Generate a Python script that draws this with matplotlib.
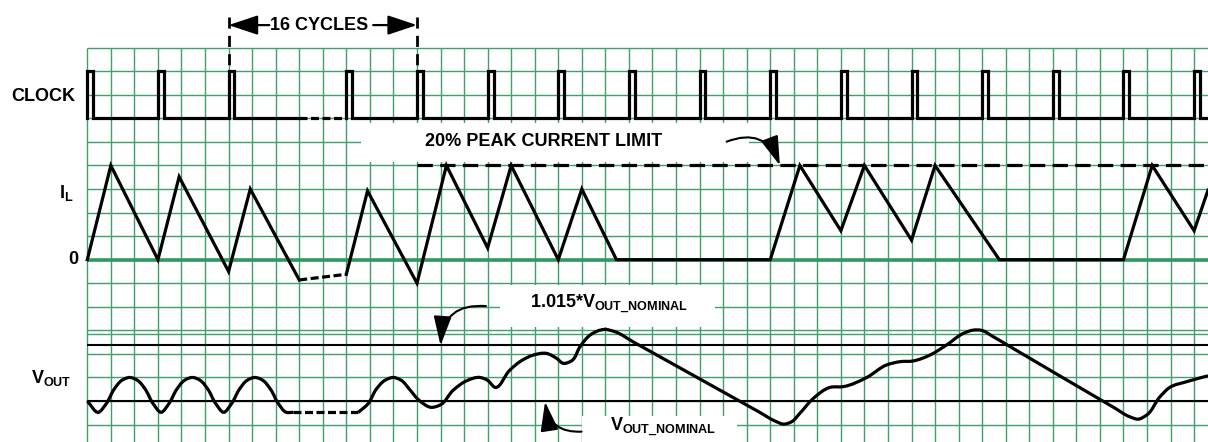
import numpy as np
import matplotlib.pyplot as plt
from matplotlib.path import Path
from matplotlib.patches import PathPatch, Rectangle

plt.rcParams['font.family'] = ['Liberation Sans', 'DejaVu Sans']
plt.rcParams['font.weight'] = 'bold'
plt.rcParams['mathtext.fontset'] = 'custom'
plt.rcParams['mathtext.rm'] = 'Liberation Sans:bold'
plt.rcParams['mathtext.it'] = 'Liberation Sans:bold'
plt.rcParams['mathtext.bf'] = 'Liberation Sans:bold'

# everything is in grid units: x = grid column, y = grid row (row 0 at top)
n_cols = 48
n_rows = 17
extra_row = 12.17          # stray grid line in the VOUT band

# clock
clk_pulses_a = [0, 3, 6]
clk_pulses_b = [11, 14, 17, 20, 23, 26, 29, 32, 35, 38, 41, 44, 47]
clk_skip = [9, 11]         # dashed part (skipped cycles)
clk_hi, clk_lo = 1, 3
clk_width = 0.25

# inductor current
il_zero = 9
il_limit = 5
il_limit_start = 14
il_x_a = [0, 1, 3, 3.9, 6, 6.92, 9]
il_y_a = [9, 5, 9, 5.48, 9.5, 6, 9.86]
il_x_skip = [9, 11]
il_y_skip = [9.86, 9.62]
il_x_b = [11, 11.9, 14, 15.25, 17, 18, 20, 21, 22.47, 29, 30.26, 32, 33, 35, 36,
          38.73, 44, 45.22, 47, 47.59]
il_y_b = [9.62, 6.08, 10, 5, 8.5, 5, 9, 6, 9, 9, 5, 7.77, 5, 8.17, 5,
          9, 9, 5, 7.77, 6.05]

# output voltage
v_nom = 15
v_max = 12.64
v_x_a = [0.0, 0.47,
         0.80, 1.14, 1.47, 1.80, 2.13, 2.46, 2.80, 3.13,
         3.46, 3.80, 4.13, 4.46, 4.79, 5.12, 5.46, 5.79,
         6.12, 6.46, 6.79, 7.12, 7.45, 7.78, 8.12, 8.45, 8.75]
v_y_a = [15.0, 15.48,
         15.12, 14.5, 14.12, 14.0, 14.12, 14.5, 15.12, 15.48,
         15.12, 14.5, 14.12, 14.0, 14.12, 14.5, 15.12, 15.48,
         15.12, 14.5, 14.12, 14.0, 14.12, 14.5, 15.12, 15.48, 15.48]
v_x_skip = [8.75, 11.51]
v_y_skip = [15.48, 15.48]
v_x_b = [11.51, 11.92, 12.27, 12.64, 12.99, 13.33, 13.68, 14.10, 14.62, 14.98, 15.54,
         16.11, 16.68, 16.98, 17.31, 17.94, 18.37, 18.94, 19.51, 19.93, 20.21, 20.57,
         20.92, 21.35, 21.98, 22.41, 23.2, 28.5, 29.27, 29.55, 29.91, 30.26, 30.83,
         31.54, 32.10, 33.10, 33.94, 34.51, 35.07, 35.78, 36.49, 37.20, 37.62, 37.98,
         38.42, 39.2, 43.6, 44.27, 44.63, 44.98, 45.55, 45.97, 46.68, 47.59]
v_y_b = [15.48, 15.12, 14.5, 14.12, 14.0, 14.12, 14.5, 14.98, 15.27, 15.17, 14.54,
         14.14, 14.0, 14.11, 14.42, 13.69, 13.33, 13.05, 12.98, 13.19, 13.40, 13.29,
         12.70, 12.20, 11.96, 12.06, 12.50, 15.45, 15.88, 15.98, 15.88, 15.52, 14.89,
         14.42, 14.39, 14.0, 13.47, 13.33, 13.30, 13.05, 12.62, 12.13, 11.99, 12.0,
         12.24, 12.70, 15.28, 15.67, 15.77, 15.60, 14.82, 14.42, 14.18, 13.93]

x_left, x_right = -3.707, 47.59
y_top, y_bottom = -2.025, 16.74
grid_c = '#3f9f6e'
lw_sig = 2.3
short_dash = (0, (2.5, 1.1))


def clock_trace(starts, end):
    xs, ys = [], []
    for s in starts:
        xs += [s, s, s + clk_width, s + clk_width]
        ys += [clk_lo, clk_hi, clk_hi, clk_lo]
    xs.append(end)
    ys.append(clk_lo)
    return xs, ys


def smooth_path(xs, ys):
    p = np.column_stack([xs, ys])
    d = np.hypot(*np.diff(p, axis=0).T)
    t = np.concatenate([[0], np.cumsum(d)])
    m = np.gradient(p, t, axis=0)
    verts = [p[0]]
    codes = [Path.MOVETO]
    for i in range(len(p) - 1):
        verts += [p[i] + m[i] * d[i] / 3, p[i + 1] - m[i + 1] * d[i] / 3, p[i + 1]]
        codes += [Path.CURVE4] * 3
    return Path(verts, codes)


fig = plt.figure(figsize=(12.08, 4.42), dpi=100)
ax = fig.add_axes([0, 0, 1, 1])
ax.set_xlim(x_left, x_right)
ax.set_ylim(y_bottom, y_top)
ax.axis('off')

# graph paper
ax.vlines(range(n_cols), 0, y_bottom, color=grid_c, lw=1.0, zorder=1)
ax.hlines(range(n_rows), 0, x_right, color=grid_c, lw=1.0, zorder=1)
ax.hlines(extra_row, 0, x_right, color=grid_c, lw=1.0, zorder=1)
ax.hlines(il_zero, 0, x_right, color='#2e9a62', lw=2.6, zorder=3)

# white label boxes
for x0, y0, x1, y1 in [(11.62, 3.21, 28.1, 4.84), (17.52, 10.08, 26.65, 11.85),
                       (20.99, 15.64, 27.58, 17.0)]:
    ax.add_patch(Rectangle((x0, y0), x1 - x0, y1 - y0, facecolor='white',
                           edgecolor='none', zorder=2))

# clock
cx, cy = clock_trace(clk_pulses_a, clk_skip[0])
ax.plot(cx, cy, color='k', lw=lw_sig, solid_joinstyle='miter', zorder=5)
ax.plot(clk_skip, [clk_lo, clk_lo], color='k', lw=lw_sig, ls=short_dash, zorder=5)
cx, cy = clock_trace(clk_pulses_b, x_right)
ax.plot(cx, cy, color='k', lw=lw_sig, solid_joinstyle='miter', zorder=5)

# inductor current
ax.plot(il_x_a, il_y_a, color='k', lw=lw_sig, solid_joinstyle='miter', zorder=5)
ax.plot(il_x_skip, il_y_skip, color='k', lw=lw_sig, ls=short_dash, zorder=5)
ax.plot(il_x_b, il_y_b, color='k', lw=lw_sig, solid_joinstyle='miter', zorder=5)
ax.plot([il_limit_start, x_right], [il_limit, il_limit], color='k', lw=lw_sig,
        ls=(0, (4.8, 2.3)), zorder=4)

# output voltage
ax.hlines([v_max, v_nom], 0, x_right, color='k', lw=1.5, zorder=4)
ax.add_patch(PathPatch(smooth_path(v_x_a, v_y_a), fill=False, lw=lw_sig, zorder=5))
ax.plot(v_x_skip, v_y_skip, color='k', lw=lw_sig, ls=short_dash, zorder=5)
ax.add_patch(PathPatch(smooth_path(v_x_b, v_y_b), fill=False, lw=lw_sig, zorder=5))

# 16 cycles marker
for xc in [clk_pulses_a[2], clk_pulses_b[1]]:
    ax.plot([xc, xc], [-1.32, clk_hi], color='k', lw=2.0, ls=(0, (4, 2.6)), zorder=5)
arrow_kw = dict(arrowstyle='-|>,head_length=1.8,head_width=0.6', color='k', lw=1.6,
                shrinkA=0, shrinkB=0)
ax.annotate('', xy=(6, -0.96), xytext=(7.73, -0.96), arrowprops=arrow_kw, zorder=6)
ax.annotate('', xy=(14, -0.96), xytext=(12.14, -0.96), arrowprops=arrow_kw, zorder=6)
ax.text(9.86, -0.96, '16 CYCLES', fontsize=13, fontweight='bold', ha='center',
        va='center', zorder=6)

# curved callouts
call_kw = dict(arrowstyle='-|>,head_length=1.8,head_width=0.55', color='k', lw=1.5,
               shrinkA=0, shrinkB=0)
ax.annotate('', xy=(29.41, il_limit), xytext=(27.15, 3.99),
            arrowprops=dict(call_kw, connectionstyle='arc3,rad=-0.5'), zorder=6)
ax.annotate('', xy=(15.0, v_max), xytext=(16.93, 10.97),
            arrowprops=dict(call_kw, connectionstyle='arc3,rad=0.5'), zorder=6)
ax.annotate('', xy=(19.44, v_nom + 0.03), xytext=(20.99, 16.3),
            arrowprops=dict(call_kw, connectionstyle='arc3,rad=-0.45'), zorder=6)

# labels
ax.text(14.34, 3.99, '20% PEAK CURRENT LIMIT', fontsize=13, fontweight='bold',
        ha='left', va='center', zorder=6)
ax.text(18.8, 11.07, r'1.015*$V_{OUT\_NOMINAL}$', fontsize=13, fontweight='bold',
        ha='left', va='baseline', zorder=6)
ax.text(22.2, 16.3, r'$V_{OUT\_NOMINAL}$', fontsize=13, ha='left', va='baseline',
        zorder=6)
ax.text(-0.52, 2.08, 'CLOCK', fontsize=13, fontweight='bold', ha='right', va='center')
ax.text(-0.61, 6.4, r'$I_L$', fontsize=13, ha='right', va='baseline')
ax.text(-0.38, il_zero, '0', fontsize=13, fontweight='bold', ha='right', va='center')
ax.text(-0.69, 14.22, r'$V_{OUT}$', fontsize=13, ha='right', va='baseline')

fig.savefig('out.png', dpi=100)
